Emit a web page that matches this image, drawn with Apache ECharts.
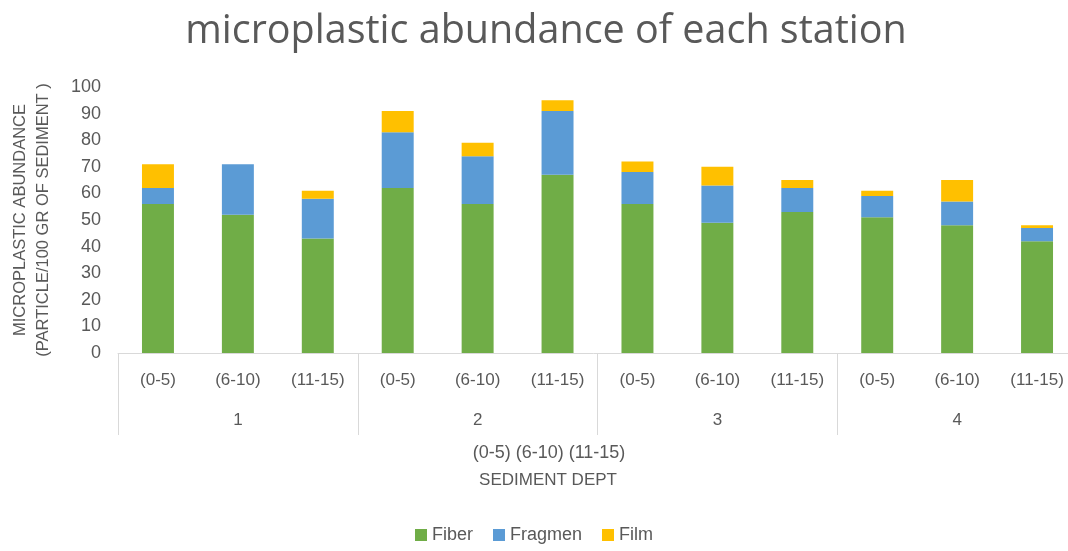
<!DOCTYPE html>
<html><head><meta charset="utf-8">
<script src="https://cdn.jsdelivr.net/npm/echarts@6/dist/echarts.min.js"></script>
<style>html,body{margin:0;padding:0;background:#fff}#c{width:1068px;height:551px}</style>
</head><body><div id="c"></div>
<script>
const depths = ['(0-5)','(6-10)','(11-15)','(0-5)','(6-10)','(11-15)','(0-5)','(6-10)','(11-15)','(0-5)','(6-10)','(11-15)'];
const stations = ['1','2','3','4'];
const fiber =   [56, 52, 43, 62, 56, 67, 56, 49, 53, 51, 48, 42];
const fragmen = [ 6, 19, 15, 21, 18, 24, 12, 14,  9,  8,  9,  5];
const film =    [ 9,  0,  3,  8,  5,  4,  4,  7,  3,  2,  8,  1];
const yTicks = {min:0, max:100, interval:10};

const FONT = "'Liberation Sans', sans-serif";
const TXT = '#595959';
const chart = echarts.init(document.getElementById('c'));
chart.setOption({
  animation:false,
  textStyle:{fontFamily:FONT},
  title:{text:'microplastic abundance of each station', left:541, top:7, textAlign:'center',
    textStyle:{fontFamily:"'Open Sans', sans-serif", fontSize:39.5, fontWeight:'normal', color:TXT}},
  grid:{left:118, width:959, top:87, bottom:198, outerBoundsMode:'none', containLabel:false},
  legend:{bottom:2, left:'center', itemWidth:12, itemHeight:12, itemGap:20, icon:'rect',
    textStyle:{fontFamily:FONT, fontSize:18, color:TXT}},
  xAxis:[
    {type:'category', data:depths, axisLine:{lineStyle:{color:'#d9d9d9'}}, axisTick:{show:false},
     axisLabel:{color:TXT, fontSize:17, margin:19, interval:0}},
    {type:'category', data:stations, position:'bottom', offset:0,
     axisLine:{show:false}, axisTick:{show:true, length:82, lineStyle:{color:'#d9d9d9'}},
     axisLabel:{color:TXT, fontSize:17, margin:59}}
  ],
  yAxis:{type:'value', min:yTicks.min, max:yTicks.max, interval:yTicks.interval,
    splitLine:{show:false}, axisLine:{show:false}, axisTick:{show:false},
    axisLabel:{color:TXT, fontSize:18, margin:17},
    name:'MICROPLASTIC ABUNDANCE\n(PARTICLE/100 GR OF SEDIMENT )', nameLocation:'middle', nameRotate:90, nameGap:63,
    nameTextStyle:{color:TXT, fontSize:16.5, lineHeight:23}},
  graphic:[
    {type:'text', x:549, y:453, style:{text:'(0-5) (6-10) (11-15)', fill:TXT, font:"18px "+FONT, align:'center', verticalAlign:'middle'}},
    {type:'text', x:548, y:480, style:{text:'SEDIMENT DEPT', fill:TXT, font:"17px "+FONT, align:'center', verticalAlign:'middle'}}
  ],
  series:[
    {name:'Fiber', type:'bar', stack:'a', data:fiber, barWidth:'40%', itemStyle:{color:'#70AD47'}},
    {name:'Fragmen', type:'bar', stack:'a', data:fragmen, itemStyle:{color:'#5B9BD5'}},
    {name:'Film', type:'bar', stack:'a', data:film, itemStyle:{color:'#FFC000'}}
  ]
});
</script></body></html>
